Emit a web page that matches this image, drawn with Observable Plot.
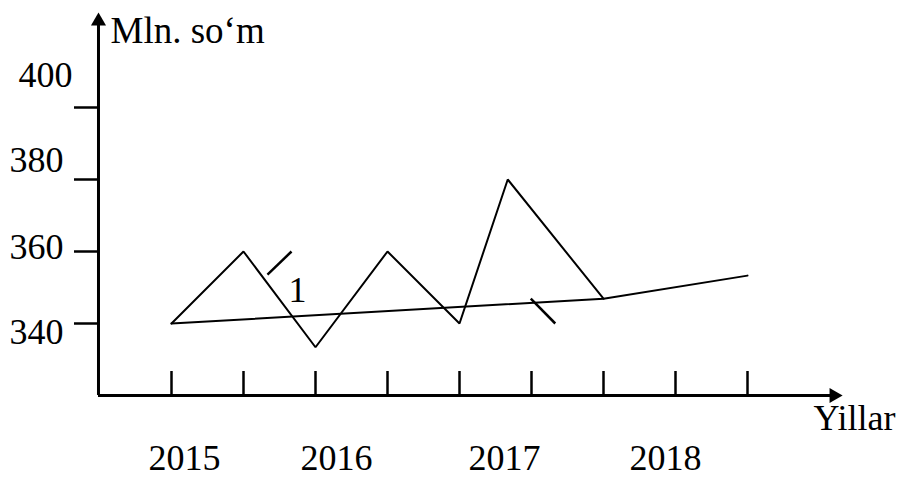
<!DOCTYPE html>
<html>
<head>
<meta charset="utf-8">
<script src="https://cdn.jsdelivr.net/npm/d3@7"></script>
<script src="https://cdn.jsdelivr.net/npm/@observablehq/plot@0.6"></script>
<style>
  html, body { margin: 0; padding: 0; background: #fff; }
  #chart svg { display: block; }
</style>
</head>
<body>
<div id="chart"></div>
<script>
// ---- data ----
// x is measured in tick steps (tick 0 .. tick 8 along the horizontal axis)
const zigzagX = [0, 1, 2, 3, 4, 4.67, 6];
const zigzagY = [340, 360, 333.4, 360, 340, 380, 346.9];

const trendX = [0, 6, 8];
const trendY = [340, 346.9, 353.3];

const markStrokes = [
  {x1: 1.333, y1: 353.6, x2: 1.667, y2: 360},
  {x1: 4.99, y1: 346.9, x2: 5.33, y2: 340}
];
const markLabel = "1";

const xTicks = [0, 1, 2, 3, 4, 5, 6, 7, 8];
const yTicks = [340, 360, 380, 400];
const yTickLabels = ["400", "380", "360", "340"];
const yTickLabelAt = [409, 385.3, 361.25, 337.6];
const yTickLabelRight = [-1.375, -1.5, -1.5, -1.5];

const years = ["2015", "2016", "2017", "2018"];
const yearAt = [0.18, 2.29, 4.625, 6.86];

const yTitle = "Mln. so‘m";
const xTitle = "Yillar";

// ---- chart ----
const font = "'Liberation Serif', 'Times New Roman', Times, serif";
const xMin = -1.014, xMax = 9.32;   // axis extents in tick steps
const yMin = 320, yMax = 426.4;     // axis extents in values

const zig = zigzagX.map((x, i) => ({x, y: zigzagY[i]}));
const trend = trendX.map((x, i) => ({x, y: trendY[i]}));
const yLab = yTickLabels.map((t, i) => ({t, y: yTickLabelAt[i], x: yTickLabelRight[i]}));
const yr = years.map((t, i) => ({t, x: yearAt[i]}));

const chart = Plot.plot({
  width: 902,
  height: 477,
  margin: 0,
  style: {background: "#fff", fontFamily: font, fontSize: "36px", color: "#000"},
  x: {domain: [0, 8], range: [171, 747], axis: null},
  y: {domain: [340, 400], range: [323, 107], axis: null},
  marks: [
    // axes
    Plot.ruleY([yMin], {x1: xMin, x2: xMax - 0.12, stroke: "#000", strokeWidth: 3}),
    Plot.ruleX([xMin], {y1: yMin, y2: yMax - 2.5, stroke: "#000", strokeWidth: 3}),
    Plot.dot([{x: xMin, y: yMax - 2.4}], {x: "x", y: "y", symbol: "triangle", r: 5.6, fill: "#000", stroke: "none"}),
    Plot.dot([{x: xMax - 0.12, y: yMin}], {x: "x", y: "y", symbol: "triangle", r: 5.6, rotate: 90, fill: "#000", stroke: "none"}),
    // ticks
    Plot.ruleX(xTicks, {y1: yMin, y2: yMin + 24 / 3.6, stroke: "#000", strokeWidth: 2.5}),
    Plot.ruleY(yTicks, {x1: xMin - 24 / 72, x2: xMin, stroke: "#000", strokeWidth: 2.5}),
    // tick labels
    Plot.text(yLab, {x: "x", y: "y", text: "t", textAnchor: "end", fontSize: 36, fill: "#000"}),
    Plot.text(yr, {x: "x", y: yMin - 63 / 3.6, text: "t", fontSize: 36, fill: "#000"}),
    // axis titles
    Plot.text([yTitle], {x: -0.847, y: 421.1, text: d => d, textAnchor: "start", fontSize: 37, fill: "#000"}),
    Plot.text([xTitle], {x: 8.917, y: 313.6, text: d => d, textAnchor: "start", fontSize: 36, fill: "#000"}),
    // data lines
    Plot.line(trend, {x: "x", y: "y", stroke: "#000", strokeWidth: 2}),
    Plot.line(zig, {x: "x", y: "y", stroke: "#000", strokeWidth: 2, strokeLinejoin: "miter"}),
    Plot.link(markStrokes, {x1: "x1", y1: "y1", x2: "x2", y2: "y2", stroke: "#000", strokeWidth: 2.5}),
    Plot.text([markLabel], {x: 1.75, y: 349.2, text: d => d, fontSize: 36, fill: "#000"})
  ]
});
document.getElementById("chart").appendChild(chart);
</script>
</body>
</html>
